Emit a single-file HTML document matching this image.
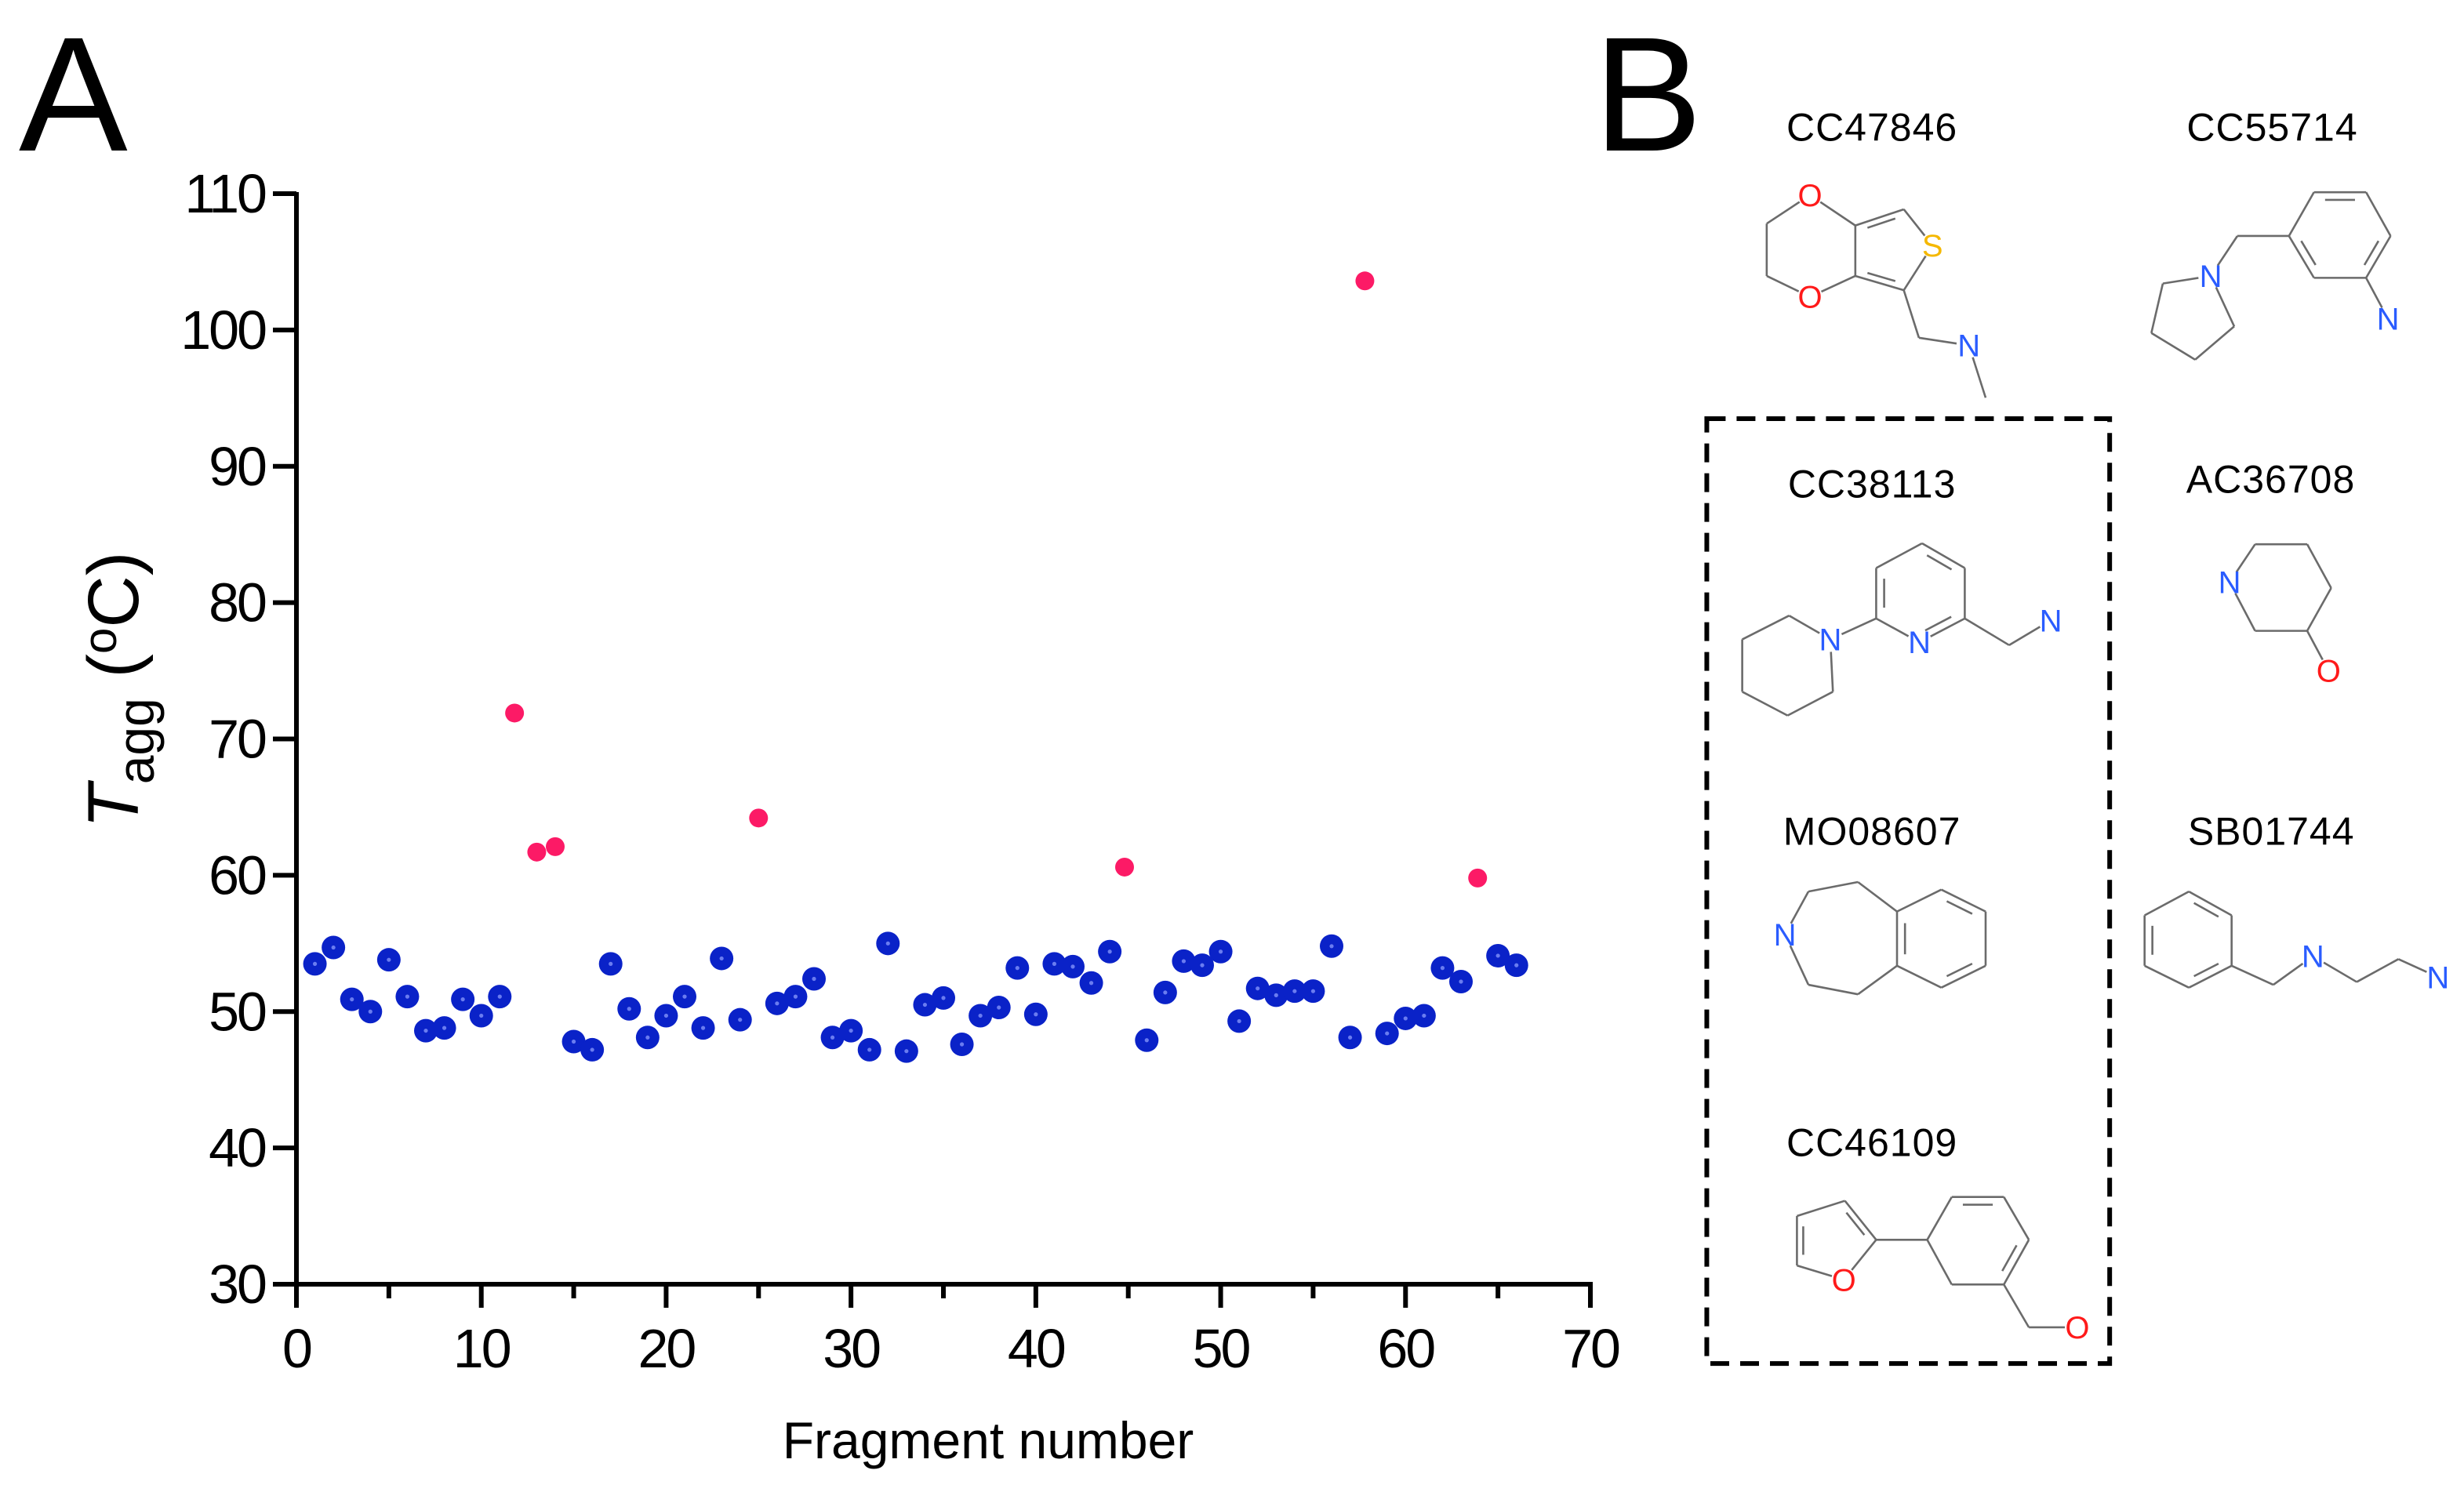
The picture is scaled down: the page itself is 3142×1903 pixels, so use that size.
<!DOCTYPE html>
<html><head><meta charset="utf-8"><style>
html,body{margin:0;padding:0;background:#fff}
svg{display:block}
text{font-family:"Liberation Sans",Arial,sans-serif}
</style></head><body>
<svg id="fig" width="3142" height="1903" viewBox="0 0 1571 951.5" xmlns="http://www.w3.org/2000/svg">
<text x="12" y="96" font-size="104">A</text>
<text x="1016" y="96" font-size="104">B</text>
<g id="plot"></g>
<g id="panelB"></g>
</svg>
<script>
const blueX=[1,2,3,4,5,6,7,8,9,10,11,15,16,17,18,19,20,21,22,23,24,26,27,28,29,30,31,32,33,34,35,36,37,38,39,40,41,42,43,44,46,47,48,49,50,51,52,53,54,55,56,57,59,60,61,62,63,65,66];
const blueY=[53.5,54.7,50.9,50.0,53.8,51.1,48.6,48.8,50.9,49.7,51.1,47.8,47.2,53.5,50.2,48.1,49.7,51.1,48.8,53.9,49.4,50.6,51.1,52.4,48.1,48.6,47.2,55.0,47.1,50.5,51.0,47.6,49.7,50.3,53.2,49.8,53.5,53.3,52.1,54.4,47.9,51.4,53.7,53.4,54.4,49.3,51.7,51.2,51.5,51.5,54.8,48.1,48.4,49.5,49.7,53.2,52.2,54.1,53.4];
const pinkX=[11.8,13,14,25,44.8,57.8,63.9];
const pinkY=[71.9,61.7,62.1,64.2,60.6,103.6,59.8];
const xTicks=[0,10,20,30,40,50,60,70];
const yTicks=[30,40,50,60,70,80,90,100,110];

const NS="http://www.w3.org/2000/svg";
const X0=189,X1=1014,Y0=819,Y1=123.5;
const sx=v=>X0+(v-0)/(70-0)*(X1-X0);
const sy=v=>Y0-(v-30)/(110-30)*(Y0-Y1);
function mk(tag,attrs,parent){const e=document.createElementNS(NS,tag);for(const k in attrs)e.setAttribute(k,attrs[k]);parent.appendChild(e);return e;}
const plot=document.getElementById('plot');
// axes
let ax=mk('line',{x1:X0,y1:Y1-1,x2:X0,y2:Y0+1.5,stroke:'#000','stroke-width':3},plot);


ax=mk('line',{x1:X0-1.5,y1:Y0,x2:X1+1.5,y2:Y0,stroke:'#000','stroke-width':3},plot);


yTicks.forEach(v=>{
 const t=mk('line',{x1:X0-15,y1:sy(v),x2:X0,y2:sy(v),stroke:'#000','stroke-width':3},plot);
 
 
 const l=mk('text',{x:X0-20,y:sy(v)+12,'font-size':35,'text-anchor':'end','letter-spacing':'-1.5'},plot);
 
 
 l.textContent=v;
});
for(let v=5;v<70;v+=10){
 const t=mk('line',{x1:sx(v),y1:Y0,x2:sx(v),y2:Y0+9,stroke:'#000','stroke-width':3},plot);
 
 
}
xTicks.forEach(v=>{
 const t=mk('line',{x1:sx(v),y1:Y0,x2:sx(v),y2:Y0+15,stroke:'#000','stroke-width':3},plot);
 
 
 const l=mk('text',{x:sx(v),y:Y0+53,'font-size':35,'text-anchor':'middle','letter-spacing':'-1.5'},plot);
 
 
 l.textContent=v;
});
let xt=mk('text',{x:630,y:930,'font-size':33,'text-anchor':'middle'},plot);


xt.textContent='Fragment number';
let yt=mk('text',{transform:'translate(88,440) rotate(-90)','font-size':46,'text-anchor':'middle'},plot);


yt.innerHTML='<tspan font-style="italic">T</tspan><tspan font-size="33" dy="10">agg</tspan><tspan dy="-10"> (</tspan><tspan font-size="30" dy="-14">o</tspan><tspan dy="14">C)</tspan>';
blueX.forEach((x,i)=>{
 const c=mk('circle',{cx:sx(x),cy:sy(blueY[i]),r:7.5,fill:'#0a22c8'},plot);
 
 
 const d=mk('circle',{cx:sx(x),cy:sy(blueY[i]),r:1.3,fill:'#6a7cf0'},plot);
 
 
});
pinkX.forEach((x,i)=>{
 const c=mk('circle',{cx:sx(x),cy:sy(pinkY[i]),r:6,fill:'#fc1a66'},plot);
 
 
});

// Panel B, coordinates in zoom space mapped to half-space
const pb=document.getElementById('panelB');
const hx=zx=>1050+zx*0.3323, hy=zy=>zy*0.6068;
function bond(p,q,parent){const l=mk('line',{x1:hx(p[0]),y1:hy(p[1]),x2:hx(q[0]),y2:hy(q[1]),stroke:'#6b6b6b','stroke-width':1.3},parent);return l;}
function inner(p,q,c,parent){ // inner double line toward centroid c
 const f=0.18,s=0.15;
 const a=[p[0]+(c[0]-p[0])*f,p[1]+(c[1]-p[1])*f],b=[q[0]+(c[0]-q[0])*f,q[1]+(c[1]-q[1])*f];
 const a2=[a[0]+(b[0]-a[0])*s,a[1]+(b[1]-a[1])*s],b2=[b[0]+(a[0]-b[0])*s,b[1]+(a[1]-b[1])*s];
 bond(a2,b2,parent);
}
function atom(p,t,col,parent){
 mk('circle',{cx:hx(p[0]),cy:hy(p[1]),r:8,fill:'#fff'},parent);
 const e=mk('text',{x:hx(p[0]),y:hy(p[1])+7,'font-size':20,'text-anchor':'middle',fill:col},parent);
 e.textContent=t;
}
const B='#2a5cff',R='#ff1a1a',Y='#f5b800';
function mol(name,label,lp,bonds,doubles,atoms){
 const g=mk('g',{},pb);
 
 
 bonds.forEach(b=>bond(b[0],b[1],g));
 doubles.forEach(d=>inner(d[0],d[1],d[2],g));
 atoms.forEach(a=>atom(a[0],a[1],a[2],g));
 const t=mk('text',{x:hx(lp[0]),y:hy(lp[1])+9,'font-size':25,'text-anchor':'middle','letter-spacing':'0.5'},g);
 t.textContent=label;
}
// CC47846
{const Ot=[313,205],Ob=[313,312],S=[548,258],N=[618,363],a=[230,235],b=[230,290],c3=[400,237],c7=[400,290],t1=[493,220],t2=[493,305],cc=[466,262];
mol('cc47846','CC47846',[432,133],[[Ot,a],[a,b],[b,Ob],[Ot,c3],[Ob,c7],[c3,c7],[c3,t1],[t1,S],[S,t2],[t2,c7],[t2,[522,355]],[[522,355],N],[N,[650,418]]],[[c3,t1,cc],[c7,t2,cc]],[[Ot,'O',R],[Ob,'O',R],[S,'S',Y],[N,'N',B]]);}
// CC55714
{const N=[1082,290],N2=[1422,335],r=[[1232,248],[1280,202],[1380,202],[1427,248],[1380,292],[1280,292]],c=[1330,247];
mol('cc55714','CC55714',[1200,133],[[N,[990,298]],[[990,298],[968,350]],[[968,350],[1052,378]],[[1052,378],[1127,343]],[[1127,343],N],[N,[1133,248]],[[1133,248],r[0]],[r[0],r[1]],[r[1],r[2]],[r[2],r[3]],[r[3],r[4]],[r[4],r[5]],[r[5],r[0]],[r[4],N2]],[[r[1],r[2],c],[r[3],r[4],c],[r[5],r[0],c]],[[N,'N',B],[N2,'N',B]]);}
// CC38113
{const N=[352,672],Np=[523,675],N3=[775,652],p=[[440,650],[440,597],[528,571],[610,597],[610,650]],c=[525,623];
mol('cc38113','CC38113',[432,508],[[[183,672],[273,647]],[[273,647],N],[N,[357,727]],[[357,727],[270,752]],[[270,752],[183,727]],[[183,727],[183,672]],[N,p[0]],[p[0],p[1]],[p[1],p[2]],[p[2],p[3]],[p[3],p[4]],[p[4],Np],[Np,p[0]],[p[4],[695,678]],[[695,678],N3]],[[p[0],p[1],c],[p[2],p[3],c],[p[4],Np,c]],[[N,'N',B],[Np,'N',B],[N3,'N',B]]);}
// AC36708
{const N=[1118,612],O=[1308,705];
mol('ac36708','AC36708',[1197,503],[[N,[1167,572]],[[1167,572],[1267,572]],[[1267,572],[1313,618]],[[1313,618],[1267,663]],[[1267,663],[1167,663]],[[1167,663],N],[[1267,663],O]],[],[[N,'N',B],[O,'O',R]]);}
// MO08607
{const N=[265,982],r=[[480,958],[565,935],[650,958],[650,1015],[565,1038],[480,1015]],c=[565,987];
mol('mo08607','MO08607',[432,873],[[N,[310,937]],[[310,937],[405,927]],[[405,927],r[0]],[r[5],[405,1045]],[[405,1045],[310,1035]],[[310,1035],N],[r[0],r[1]],[r[1],r[2]],[r[2],r[3]],[r[3],r[4]],[r[4],r[5]],[r[5],r[0]]],[[r[1],r[2],c],[r[3],r[4],c],[r[5],r[0],c]],[[N,'N',B]]);}
// SB01744
{const N=[1278,1005],N2=[1518,1027],r=[[955,962],[1040,937],[1122,962],[1122,1015],[1040,1038],[955,1015]],c=[1038,987];
mol('sb01744','SB01744',[1198,873],[[r[0],r[1]],[r[1],r[2]],[r[2],r[3]],[r[3],r[4]],[r[4],r[5]],[r[5],r[0]],[r[3],[1202,1035]],[[1202,1035],N],[N,[1362,1032]],[[1362,1032],[1442,1008]],[[1442,1008],N2]],[[r[1],r[2],c],[r[3],r[4],c],[r[5],r[0],c]],[[N,'N',B],[N2,'N',B]]);}
// CC46109
{const Of=[378,1345],O=[826,1395],f=[[288,1278],[380,1262],[440,1303],[288,1330]],r=[[538,1303],[585,1258],[685,1258],[733,1303],[685,1350],[585,1350]],c=[635,1303],fc=[355,1303];
mol('cc46109','CC46109',[432,1200],[[f[0],f[1]],[f[1],f[2]],[f[2],Of],[Of,f[3]],[f[3],f[0]],[f[2],r[0]],[r[0],r[1]],[r[1],r[2]],[r[2],r[3]],[r[3],r[4]],[r[4],r[5]],[r[5],r[0]],[r[4],[733,1395]],[[733,1395],O]],[[f[0],f[3],fc],[f[1],f[2],fc],[r[1],r[2],c],[r[3],r[4],c]],[[Of,'O',R],[O,'O',R]]);}
// dashed box
const box=mk('rect',{x:hx(115),y:hy(440),width:hx(888)-hx(115),height:hy(1433)-hy(440),fill:'none',stroke:'#000','stroke-width':3,'stroke-dasharray':'12 7'},pb);


</script>
</body></html>
